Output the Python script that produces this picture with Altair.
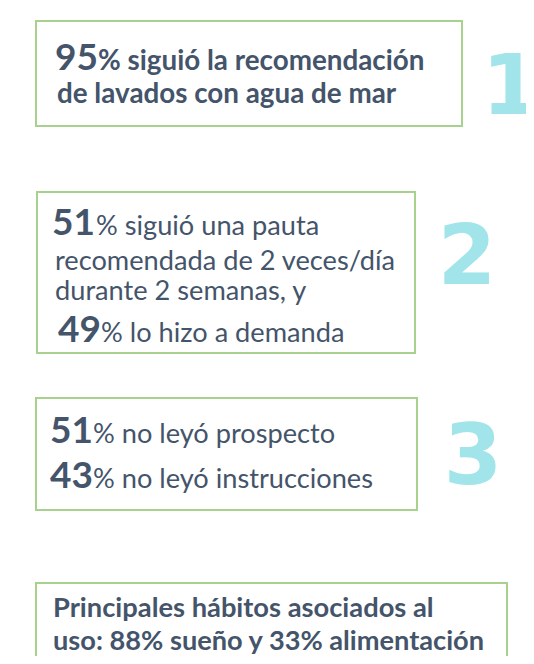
import altair as alt
import pandas as pd

# ---- values ----
pcts = ["95", "51", "49", "51", "43"]
labels_bold = ["% siguió la recomendación", "de lavados con agua de mar",
               "Principales hábitos asociados al", "uso: 88% sueño y 33% alimentación"]
labels_reg = ["% siguió una pauta", "recomendada de 2 veces/día", "durante 2 semanas, y",
              "% lo hizo a demanda", "% no leyó prospecto", "% no leyó instrucciones"]
steps = ["1", "2", "3"]

# ---- layout (page pixel coordinates) ----
box_x = [36, 37, 36, 36]
box_x2 = [462, 415, 417, 507]
box_y = [21, 192, 398, 583]
box_y2 = [126, 353, 510, 690]

pct_x = [98, 95, 101, 93, 93]
pct_y = [70, 235, 342, 443, 488]

bold_x = [98, 57, 53, 53]
bold_y = [70, 103, 617, 650]
bold_size = [27.8, 27.8, 27.3, 27.2]

reg_x = [96, 55, 55, 101, 93, 93]
reg_y = [235, 270, 300, 342, 443, 488]

step_x = [511, 467, 473]
step_y = [114, 284, 484]

TEXT = "#44546a"
GREEN = "#a9d18e"
CYAN = "#a1e4ea"
FONT = "Lato"

xs = alt.Scale(domain=[8, 526], range=[0, 518], nice=False, zero=False)
ys = alt.Scale(domain=[8, 656], range=[0, 648], nice=False, zero=False)

boxes = pd.DataFrame({"x": box_x, "x2": box_x2, "y": box_y, "y2": box_y2})
pdf = pd.DataFrame({"t": pcts, "x": pct_x, "y": pct_y})
bdf = pd.DataFrame({"t": labels_bold, "x": bold_x, "y": bold_y, "s": bold_size})
rdf = pd.DataFrame({"t": labels_reg, "x": reg_x, "y": reg_y})
sdf = pd.DataFrame({"t": steps, "x": step_x, "y": step_y})

rect = alt.Chart(boxes).mark_rect(fill="white", stroke=GREEN, strokeWidth=2, clip=False).encode(
    x=alt.X("x:Q", scale=xs, axis=None), x2="x2:Q",
    y=alt.Y("y:Q", scale=ys, axis=None), y2="y2:Q")

def txt(df, size, weight, align, color=TEXT, font=FONT, sized=False):
    enc = dict(x=alt.X("x:Q", scale=xs, axis=None),
               y=alt.Y("y:Q", scale=ys, axis=None),
               text="t:N")
    if sized:
        enc["size"] = alt.Size("s:Q", scale=None, legend=None)
    return alt.Chart(df).mark_text(fontSize=size, fontWeight=weight, align=align,
                                   baseline="alphabetic", color=color, font=font,
                                   clip=False).encode(**enc)

chart = alt.layer(
    rect,
    txt(pdf, 37, "bold", "right"),
    txt(bdf, 27.8, "bold", "left", sized=True),
    txt(rdf, 27.2, "normal", "left"),
    txt(sdf, 84, "bold", "center", color=CYAN, font="DejaVu Sans"),
).properties(width=518, height=648, padding=0, autosize=alt.AutoSizeParams(type="none")
).configure_view(stroke=None)

chart.save("out.html", embed_options={"renderer": "svg", "actions": False})
